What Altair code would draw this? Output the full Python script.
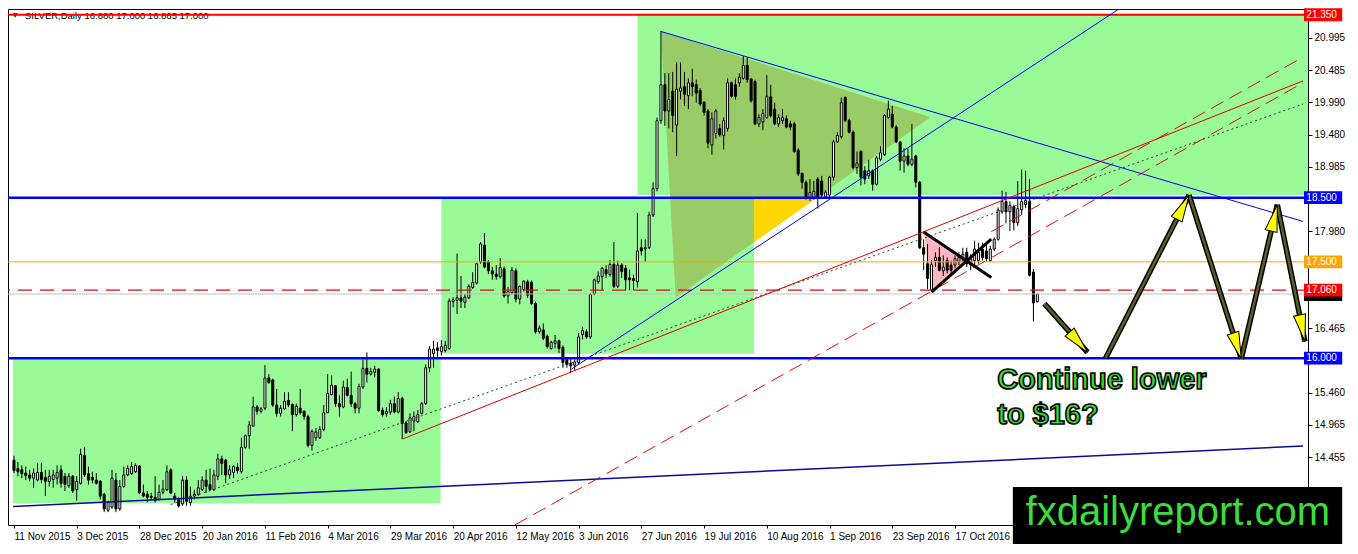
import json
import math
import altair as alt
import pandas as pd

W, H = 1300, 516
XMIN, XMAX = -0.25, 328.75
YMIN, YMAX = 13.40, 21.44
KX = W / (XMAX - XMIN)
KY = H / (YMAX - YMIN)

# ---------------- candle data (daily SILVER) ----------------
opens = [
    14.41, 14.28, 14.26, 14.21, 14.18, 14.13, 14.10, 14.22, 14.14, 14.08,
    14.11, 14.13, 14.26, 14.16, 14.01, 14.16, 13.95, 14.05, 14.48, 14.20,
    14.14, 14.10, 14.08, 13.88, 13.63, 13.68, 14.10, 13.65, 14.00, 14.18,
    14.20, 14.23, 14.32, 13.90, 13.88, 13.85, 13.83, 13.80, 13.91, 13.95,
    14.26, 13.85, 13.80, 13.73, 14.10, 13.75, 13.85, 13.88, 13.95, 14.10,
    14.03, 13.95, 14.16, 14.43, 14.41, 14.18, 14.22, 14.30, 14.23, 14.61,
    14.79, 14.94, 15.24, 15.17, 15.22, 15.69, 15.66, 15.27, 15.14, 15.21,
    15.34, 15.28, 15.12, 15.22, 15.17, 15.09, 14.64, 14.76, 14.76, 14.89,
    15.15, 15.43, 15.57, 15.29, 15.24, 15.54, 15.42, 15.29, 15.22, 15.55,
    15.84, 15.75, 15.78, 15.83, 15.19, 15.13, 15.16, 15.29, 15.16, 15.37,
    14.99, 14.85, 15.02, 15.01, 15.14, 15.29, 15.85, 16.07, 16.16, 16.10,
    16.12, 16.15, 16.88, 16.90, 16.94, 16.87, 16.94, 17.10, 17.17, 17.50,
    17.76, 17.50, 17.36, 17.31, 17.27, 17.39, 16.97, 17.02, 17.36, 16.92,
    17.07, 17.19, 17.18, 16.85, 16.41, 16.44, 16.34, 16.15, 16.23, 16.27,
    16.17, 15.98, 15.92, 15.89, 15.93, 16.37, 16.41, 16.33, 17.00, 17.19,
    17.27, 17.38, 17.30, 17.46, 17.12, 17.45, 17.40, 17.25, 17.24, 17.19,
    17.72, 17.70, 17.72, 18.23, 18.64, 19.70, 20.26, 19.85, 20.16, 19.63,
    20.16, 20.23, 20.09, 20.29, 20.26, 20.17, 19.99, 19.85, 19.32, 19.50,
    19.58, 19.47, 19.58, 20.29, 20.26, 20.29, 20.36, 20.56, 20.35, 20.31,
    19.65, 19.68, 19.75, 20.07, 19.88, 19.65, 19.70, 19.73, 19.65, 19.65,
    19.24, 18.88, 18.74, 18.50, 18.50, 18.79, 18.76, 18.51, 18.54, 18.82,
    19.37, 19.45, 20.06, 19.70, 19.52, 18.97, 19.22, 18.92, 18.84, 18.92,
    18.71, 19.10, 19.17, 19.75, 19.80, 19.60, 19.37, 19.07, 19.15, 19.02,
    19.15, 18.74, 17.72, 17.47, 17.06, 17.52, 17.57, 17.36, 17.52, 17.45,
    17.45, 17.50, 17.55, 17.65, 17.45, 17.52, 17.52, 17.70, 17.67, 17.52,
    17.70, 17.85, 18.28, 18.44, 18.28, 18.36, 18.11, 18.31, 18.39, 18.44,
    17.34, 16.88,
]
highs = [
    14.48, 14.38, 14.33, 14.31, 14.26, 14.28, 14.36, 14.37, 14.26, 14.26,
    14.26, 14.33, 14.33, 14.21, 14.21, 14.18, 14.16, 14.59, 14.61, 14.31,
    14.23, 14.21, 14.10, 13.90, 13.78, 14.26, 14.21, 14.10, 14.31, 14.33,
    14.38, 14.36, 14.33, 14.03, 13.93, 13.90, 14.16, 14.03, 14.10, 14.33,
    14.28, 13.90, 13.83, 14.16, 14.16, 14.00, 13.95, 14.10, 14.16, 14.26,
    14.28, 14.26, 14.51, 14.48, 14.43, 14.33, 14.33, 14.36, 14.76, 14.81,
    15.02, 15.40, 15.27, 15.24, 15.89, 15.75, 15.68, 15.52, 15.27, 15.47,
    15.47, 15.29, 15.29, 15.52, 15.19, 15.12, 14.89, 14.91, 14.94, 15.27,
    15.75, 15.73, 15.58, 15.42, 15.65, 15.68, 15.79, 15.32, 15.60, 15.98,
    16.09, 15.85, 15.88, 15.84, 15.23, 15.24, 15.35, 15.40, 15.47, 15.40,
    15.02, 15.14, 15.17, 15.19, 15.32, 15.90, 16.19, 16.27, 16.25, 16.28,
    16.27, 16.93, 16.95, 17.63, 17.28, 17.00, 17.15, 17.34, 17.49, 17.81,
    17.95, 17.53, 17.42, 17.45, 17.56, 17.43, 17.11, 17.42, 17.40, 17.13,
    17.21, 17.22, 17.21, 16.88, 16.51, 16.54, 16.37, 16.27, 16.36, 16.29,
    16.20, 16.00, 15.99, 15.98, 16.39, 16.49, 16.45, 17.01, 17.24, 17.35,
    17.42, 17.45, 17.53, 17.81, 17.52, 17.48, 17.45, 17.38, 17.30, 18.26,
    17.85, 17.85, 18.28, 18.74, 19.75, 21.10, 20.44, 20.44, 20.46, 20.61,
    20.61, 20.46, 20.36, 20.51, 20.34, 20.21, 20.00, 19.88, 19.83, 19.88,
    19.65, 19.75, 20.36, 20.31, 20.36, 20.44, 20.71, 20.69, 20.36, 20.34,
    19.80, 19.88, 20.41, 20.26, 19.98, 19.80, 19.88, 19.78, 19.70, 19.68,
    19.27, 18.89, 18.77, 18.79, 18.76, 18.82, 18.84, 18.62, 18.84, 19.40,
    19.52, 20.06, 20.08, 19.73, 19.55, 19.22, 19.24, 18.99, 19.09, 18.94,
    19.15, 19.30, 19.80, 20.01, 19.93, 19.63, 19.37, 19.27, 19.27, 19.65,
    19.17, 18.76, 17.85, 17.78, 17.53, 17.65, 17.73, 17.60, 17.57, 17.52,
    17.60, 17.65, 17.72, 17.72, 17.62, 17.83, 17.80, 17.80, 17.78, 17.75,
    17.88, 18.35, 18.61, 18.59, 18.44, 18.39, 18.76, 18.94, 18.92, 18.79,
    17.39, 17.00,
]
lows = [
    14.21, 14.16, 14.13, 14.10, 14.08, 13.98, 14.08, 14.05, 13.85, 14.00,
    13.98, 14.03, 13.98, 13.93, 13.98, 13.90, 13.78, 14.03, 14.15, 14.03,
    14.05, 14.03, 13.80, 13.60, 13.60, 13.65, 13.60, 13.62, 13.98, 14.16,
    14.18, 14.21, 13.88, 13.83, 13.75, 13.78, 13.75, 13.78, 13.88, 13.93,
    13.88, 13.75, 13.67, 13.70, 13.70, 13.70, 13.80, 13.85, 13.93, 13.90,
    13.93, 13.93, 14.10, 14.18, 14.05, 14.12, 14.13, 14.20, 14.20, 14.59,
    14.59, 14.94, 15.12, 15.14, 15.19, 15.60, 15.24, 15.09, 15.09, 15.19,
    15.24, 14.86, 15.09, 15.12, 15.04, 14.61, 14.56, 14.71, 14.74, 14.86,
    15.14, 15.43, 15.24, 15.09, 15.22, 15.40, 15.24, 15.14, 15.14, 15.52,
    15.62, 15.73, 15.70, 15.17, 15.09, 15.09, 15.12, 15.14, 15.14, 14.74,
    14.82, 14.84, 14.86, 14.99, 15.12, 15.27, 15.78, 15.85, 16.02, 16.04,
    16.09, 16.13, 16.79, 16.69, 16.78, 16.78, 16.92, 17.08, 17.15, 17.47,
    17.40, 17.31, 17.22, 17.22, 17.24, 16.94, 16.85, 16.99, 16.87, 16.84,
    17.04, 16.94, 16.83, 16.38, 16.38, 16.28, 16.15, 16.13, 16.15, 16.08,
    15.85, 15.85, 15.77, 15.80, 15.90, 16.29, 16.30, 16.30, 16.98, 17.16,
    17.06, 17.25, 17.27, 17.09, 17.09, 17.25, 17.06, 17.06, 17.06, 17.10,
    17.60, 17.50, 17.70, 18.20, 18.60, 19.65, 19.62, 19.58, 19.52, 19.15,
    20.03, 19.93, 19.88, 20.08, 19.98, 19.93, 19.78, 19.27, 19.17, 19.42,
    19.45, 19.25, 19.53, 20.06, 20.03, 20.23, 20.34, 20.29, 19.98, 19.63,
    19.60, 19.55, 19.73, 19.75, 19.63, 19.60, 19.65, 19.58, 19.55, 19.20,
    18.84, 18.64, 18.47, 18.45, 18.47, 18.33, 18.51, 18.49, 18.50, 18.77,
    19.35, 19.42, 19.68, 19.50, 18.94, 18.87, 18.69, 18.71, 18.79, 18.61,
    18.69, 19.07, 19.15, 19.73, 19.58, 19.35, 18.92, 18.89, 18.99, 18.99,
    18.66, 17.70, 17.37, 17.07, 17.03, 17.42, 17.35, 17.28, 17.32, 17.30,
    17.40, 17.45, 17.50, 17.42, 17.37, 17.45, 17.47, 17.52, 17.50, 17.50,
    17.67, 17.83, 18.25, 18.10, 17.98, 17.99, 18.06, 18.23, 18.34, 17.27,
    16.57, 16.865,
]
closes = [
    14.25, 14.23, 14.20, 14.17, 14.13, 14.21, 14.22, 14.11, 14.08, 14.16,
    14.18, 14.22, 14.05, 14.03, 14.16, 13.93, 14.08, 14.50, 14.18, 14.10,
    14.10, 14.05, 13.85, 13.65, 13.75, 14.13, 13.65, 14.00, 14.18, 14.28,
    14.31, 14.33, 13.90, 13.85, 13.83, 13.83, 13.78, 13.91, 13.96, 14.23,
    13.90, 13.80, 13.70, 14.10, 13.77, 13.85, 13.88, 13.98, 14.10, 14.00,
    13.95, 14.18, 14.43, 14.36, 14.18, 14.26, 14.31, 14.25, 14.61, 14.79,
    14.96, 15.24, 15.17, 15.21, 15.69, 15.62, 15.27, 15.14, 15.22, 15.33,
    15.27, 15.12, 15.25, 15.15, 15.09, 14.64, 14.86, 14.85, 14.89, 15.15,
    15.45, 15.58, 15.29, 15.24, 15.55, 15.42, 15.29, 15.22, 15.56, 15.84,
    15.75, 15.79, 15.83, 15.18, 15.12, 15.17, 15.29, 15.16, 15.37, 14.98,
    14.84, 15.07, 15.09, 15.12, 15.29, 15.85, 16.14, 16.14, 16.12, 16.18,
    16.20, 16.89, 16.91, 16.94, 16.89, 16.95, 17.12, 17.18, 17.47, 17.78,
    17.42, 17.36, 17.31, 17.27, 17.41, 16.97, 17.04, 17.37, 16.92, 17.12,
    17.20, 16.98, 16.85, 16.41, 16.47, 16.31, 16.18, 16.25, 16.27, 16.15,
    15.93, 15.90, 15.88, 15.94, 16.33, 16.43, 16.33, 16.99, 17.22, 17.28,
    17.40, 17.31, 17.46, 17.12, 17.45, 17.35, 17.22, 17.22, 17.21, 17.67,
    17.67, 17.72, 18.23, 18.64, 19.70, 20.26, 19.85, 20.03, 19.78, 20.19,
    20.21, 20.11, 20.29, 20.23, 20.13, 19.96, 19.83, 19.35, 19.73, 19.85,
    19.48, 19.70, 20.29, 20.08, 20.08, 20.38, 20.56, 20.34, 20.01, 19.65,
    19.75, 19.81, 20.08, 19.78, 19.65, 19.75, 19.75, 19.60, 19.60, 19.22,
    18.87, 18.74, 18.49, 18.58, 18.60, 18.49, 18.54, 18.59, 18.82, 19.37,
    19.47, 19.98, 19.70, 19.52, 18.97, 19.04, 18.82, 18.79, 18.92, 18.71,
    19.12, 19.20, 19.78, 19.88, 19.60, 19.37, 19.07, 19.15, 19.02, 19.10,
    18.74, 17.72, 17.62, 17.24, 17.46, 17.57, 17.37, 17.42, 17.37, 17.37,
    17.55, 17.57, 17.62, 17.47, 17.55, 17.70, 17.65, 17.57, 17.55, 17.70,
    17.85, 18.31, 18.44, 18.28, 18.38, 18.11, 18.33, 18.44, 18.46, 17.29,
    16.86, 17.00,
]

date_ticks = [0, 16, 32, 48, 64, 80, 96, 112, 128, 144, 160, 176, 192, 208, 224, 240]
date_labels = ["11 Nov 2015", "3 Dec 2015", "28 Dec 2015", "20 Jan 2016", "11 Feb 2016",
               "4 Mar 2016", "29 Mar 2016", "20 Apr 2016", "12 May 2016", "3 Jun 2016",
               "27 Jun 2016", "19 Jul 2016", "10 Aug 2016", "1 Sep 2016", "23 Sep 2016",
               "17 Oct 2016"]
price_ticks = [20.995, 20.485, 19.990, 19.480, 18.985, 17.980,
               16.465, 15.460, 14.965, 14.455]

title_text = "SILVER,Daily 16.880 17.000 16.865 17.000"

# key horizontal levels
lvl_price = [17.00, 17.50, 17.06, 21.35, 18.50, 16.00]
lvl_color = ["#C0C0C0", "#FFA500", "#D01010", "#FF0000", "#0000FF", "#0000FF"]
lvl_width = [1, 1, 1.2, 2, 2.5, 2.5]
lvl_dash = [None, None, [14, 8], None, None, None]

# right-hand price tags (drawn in this order; the black bid tag sits under the red one)
tag_price = [21.35, 18.50, 17.50, 16.99, 17.06, 16.00]
tag_text = ["21.350", "18.500", "17.500", "", "17.060", "16.000"]
tag_color = ["#FF0000", "#0000FF", "#FFA500", "#000000", "#FF0000", "#0000FF"]

# pale green rectangles (bar index / price)
box_x1 = [-0.25, 109.0, 159.0]
box_x2 = [108.8, 188.75, 332.0]
box_lo = [13.74, 16.07, 18.54]
box_hi = [16.00, 18.50, 21.35]

# triangle objects: x breakpoints with top / bottom edges
tri_bar = [165.0, 168.75, 233.75]
tri_top = [21.092, 21.019, 19.755]
tri_bot = [21.092, 16.943, 19.755]
yel_bar = [188.75, 204.74]
yel_top = [18.50, 18.50]
yel_bot = [17.808, 18.50]
pink_bar = [232.0, 234.08, 242.98]
pink_top = [17.966, 17.88, 17.516]
pink_bot = [17.966, 17.034, 17.516]

# trend lines: (bar1, price1, bar2, price2)
tl_blue_down = [165.0, 21.09, 328.75, 18.13]
tl_blue_up = [142.2, 15.83, 281.8, 21.44]
tl_navy = [-0.25, 13.69, 328.75, 14.63]
tl_red = [99.1, 14.74, 328.75, 20.32]
tl_red_dash1 = [127.75, 13.40, 328.75, 20.29]
tl_red_dash2 = [249.25, 17.97, 328.75, 20.69]
tl_dotted = [40.0, 13.72, 328.75, 19.96]
x_line_a = [232.0, 17.966, 249.25, 17.257]
x_line_b = [234.08, 17.034, 249.25, 17.855]

# forecast arrows
arr_x1 = [262.8, 278.4, 299.7, 313.0, 322.2]
arr_y1 = [16.85, 16.00, 18.54, 15.99, 18.39]
arr_x2 = [273.8, 299.7, 313.0, 322.2, 329.25]
arr_y2 = [16.09, 18.54, 15.99, 18.39, 16.26]

note_lines = ["Continue lower", "to $16?"]
note_bar = [250.75, 250.75]
note_price = [15.525, 14.98]

brand_text = "fxdailyreport.com"

# ---------------- chart ----------------
xs = alt.Scale(domain=[XMIN, XMAX], nice=False, zero=False)
ys = alt.Scale(domain=[YMIN, YMAX], nice=False, zero=False)
label_expr = json.dumps(date_labels) + "[round(datum.value / 16)]"
x_axis = alt.Axis(values=date_ticks, labelExpr=label_expr, orient="bottom",
                  labelAlign="left", labelBaseline="top", labelFlush=False,
                  labelOverlap=False, labelBound=False, tickSize=3, tickColor="black",
                  labelPadding=3, domain=False, grid=False, labelFontSize=10,
                  labelFont="Liberation Sans", labelColor="black")
y_axis = alt.Axis(values=price_ticks, format=".3f", orient="right", tickSize=4,
                  tickColor="black", labelPadding=2, domain=False, grid=False,
                  labelFontSize=10, labelFont="Liberation Sans", labelColor="black",
                  labelOverlap=False, labelBound=False)


def X(f):
    return alt.X(f + ":Q", scale=xs, axis=x_axis, title=None)


def Y(f):
    return alt.Y(f + ":Q", scale=ys, axis=y_axis, title=None)


layers = []

# background rectangles
boxes = pd.DataFrame({"x1": box_x1, "x2": box_x2, "y1": box_lo, "y2": box_hi})
layers.append(alt.Chart(boxes).mark_rect(color="#98FB98", clip=True).encode(
    x=X("x1"), x2="x2:Q", y=Y("y1"), y2="y2:Q"))


def poly(xv, top, bot, color):
    df = pd.DataFrame({"b": xv, "t": top, "u": bot})
    return alt.Chart(df).mark_area(color=color, opacity=1, fillOpacity=1, clip=True).encode(
        x=X("b"), y=Y("t"), y2="u:Q")


layers.append(poly(tri_bar, tri_top, tri_bot, "#99CC66"))
layers.append(poly(yel_bar, yel_top, yel_bot, "#FFD700"))
layers.append(poly(pink_bar, pink_top, pink_bot, "#FFB6C1"))

# title
tdf = pd.DataFrame({"t": [title_text], "m": ["\u25BC"]})
layers.append(alt.Chart(tdf).mark_text(align="left", baseline="alphabetic", fontSize=9.5,
                                       font="Liberation Sans", color="black").encode(
    x=alt.value(17), y=alt.value(10), text="t:N"))
layers.append(alt.Chart(tdf).mark_text(align="center", baseline="middle", fontSize=6,
                                       font="DejaVu Sans", color="black").encode(
    x=alt.value(7), y=alt.value(6), text="m:N"))

# candles: wicks then bodies
n = min(len(opens), len(highs), len(lows), len(closes))
cd = pd.DataFrame({
    "bar": list(range(n)),
    "o": opens[:n], "h": highs[:n], "l": lows[:n], "c": closes[:n],
})
cd["lo"] = cd[["o", "c"]].min(axis=1)
cd["hi"] = cd[["o", "c"]].max(axis=1)
cd["dir"] = ["up" if c >= o else "down" for o, c in zip(cd["o"], cd["c"])]
layers.append(alt.Chart(cd).mark_rule(color="black", strokeWidth=1, clip=True).encode(
    x=X("bar"), y=Y("l"), y2="h:Q"))
layers.append(alt.Chart(cd).mark_bar(size=2, stroke="black", strokeWidth=1, clip=True).encode(
    x=X("bar"), y=Y("lo"), y2="hi:Q",
    color=alt.Color("dir:N", scale=alt.Scale(domain=["up", "down"], range=["white", "black"]),
                    legend=None)))

# horizontal levels
for p, col, wdt, dash in zip(lvl_price, lvl_color, lvl_width, lvl_dash):
    kw = dict(color=col, strokeWidth=wdt, clip=True)
    if dash:
        kw["strokeDash"] = dash
    layers.append(alt.Chart(pd.DataFrame({"p": [p]})).mark_rule(**kw).encode(y=Y("p")))


def seg(pts, color, width, dash=None):
    df = pd.DataFrame({"x1": [pts[0]], "y1": [pts[1]], "x2": [pts[2]], "y2": [pts[3]]})
    kw = dict(color=color, strokeWidth=width, clip=True)
    if dash:
        kw["strokeDash"] = dash
    return alt.Chart(df).mark_rule(**kw).encode(x=X("x1"), x2="x2:Q", y=Y("y1"), y2="y2:Q")


layers.append(seg(tl_navy, "#0A0A9A", 1.5))
layers.append(seg(tl_dotted, "#1F4F1F", 1, [2, 3]))
layers.append(seg(tl_red_dash1, "#D41010", 1, [14, 7]))
layers.append(seg(tl_red_dash2, "#D41010", 1, [14, 7]))
layers.append(seg(tl_red, "#E00000", 1))
layers.append(seg(tl_blue_down, "#0000FF", 1))
layers.append(seg(tl_blue_up, "#0000FF", 1))
layers.append(seg(x_line_a, "black", 3))
layers.append(seg(x_line_b, "black", 3))

# arrows
adf = pd.DataFrame({"x1": arr_x1, "y1": arr_y1, "x2": arr_x2, "y2": arr_y2})
layers.append(alt.Chart(adf).mark_rule(color="black", strokeWidth=5.5, clip=True).encode(
    x=X("x1"), x2="x2:Q", y=Y("y1"), y2="y2:Q"))
layers.append(alt.Chart(adf).mark_rule(color="#5E5E2A", strokeWidth=2.5, clip=True).encode(
    x=X("x1"), x2="x2:Q", y=Y("y1"), y2="y2:Q"))
angles = []
for a, b, c, d in zip(arr_x1, arr_y1, arr_x2, arr_y2):
    dx = (c - a) * KX
    dy = -(d - b) * KY
    angles.append(math.degrees(math.atan2(dx, -dy)) % 360)
hdf = pd.DataFrame({"bx": arr_x2, "by": arr_y2, "ang": angles})
layers.append(alt.Chart(hdf).mark_point(shape="M0,0L0.45,2L-0.45,2Z", size=729, filled=True,
                                         fill="#FFFF00", stroke="black", strokeWidth=1,
                                         opacity=1, clip=True).encode(
    x=X("bx"), y=Y("by"), angle=alt.Angle("ang:Q", scale=None)))

# note text
ndf = pd.DataFrame({"b": note_bar, "p": note_price, "t": note_lines})
layers.append(alt.Chart(ndf).mark_text(align="left", baseline="alphabetic", fontSize=29,
                                       font="Liberation Sans", fontWeight="bold",
                                       color="#33E033", stroke="black", strokeWidth=1.6).encode(
    x=X("b"), y=Y("p"), text="t:N"))

# brand box
bdf = pd.DataFrame({"x1": [254.75], "x2": [338.75], "y1": [13.994], "y2": [YMIN - 19 / KY]})
layers.append(alt.Chart(bdf).mark_rect(color="black", clip=False).encode(
    x=X("x1"), x2="x2:Q", y=Y("y1"), y2="y2:Q"))
brdf = pd.DataFrame({"b": [258.0], "p": [YMIN], "t": [brand_text]})
layers.append(alt.Chart(brdf).mark_text(align="left", baseline="alphabetic", fontSize=40,
                                        font="Liberation Sans", color="#3CDC3C", clip=False).encode(
    x=X("b"), y=Y("p"), text="t:N"))

# right price tags, each rect+text in order so later tags cover earlier ones
for p, t, col in zip(tag_price, tag_text, tag_color):
    tg = pd.DataFrame({"p": [p], "p1": [p - 0.1], "p2": [p + 0.1], "x1": [329.0],
                       "x2": [338.75], "xt": [329.6], "t": [t]})
    layers.append(alt.Chart(tg).mark_rect(color=col, clip=False).encode(
        x=X("x1"), x2="x2:Q", y=Y("p1"), y2="p2:Q"))
    if t:
        layers.append(alt.Chart(tg).mark_text(align="left", baseline="middle", fontSize=10,
                                              font="Liberation Sans", color="white",
                                              clip=False).encode(
            x=X("xt"), y=Y("p"), text="t:N"))

chart = alt.layer(*layers).properties(
    width=W, height=H, background="white",
    padding={"left": 0, "top": 0, "right": 0, "bottom": 0},
).configure_view(stroke="black", strokeWidth=1)

chart.save("out.html", embed_options={"renderer": "svg", "actions": False})
